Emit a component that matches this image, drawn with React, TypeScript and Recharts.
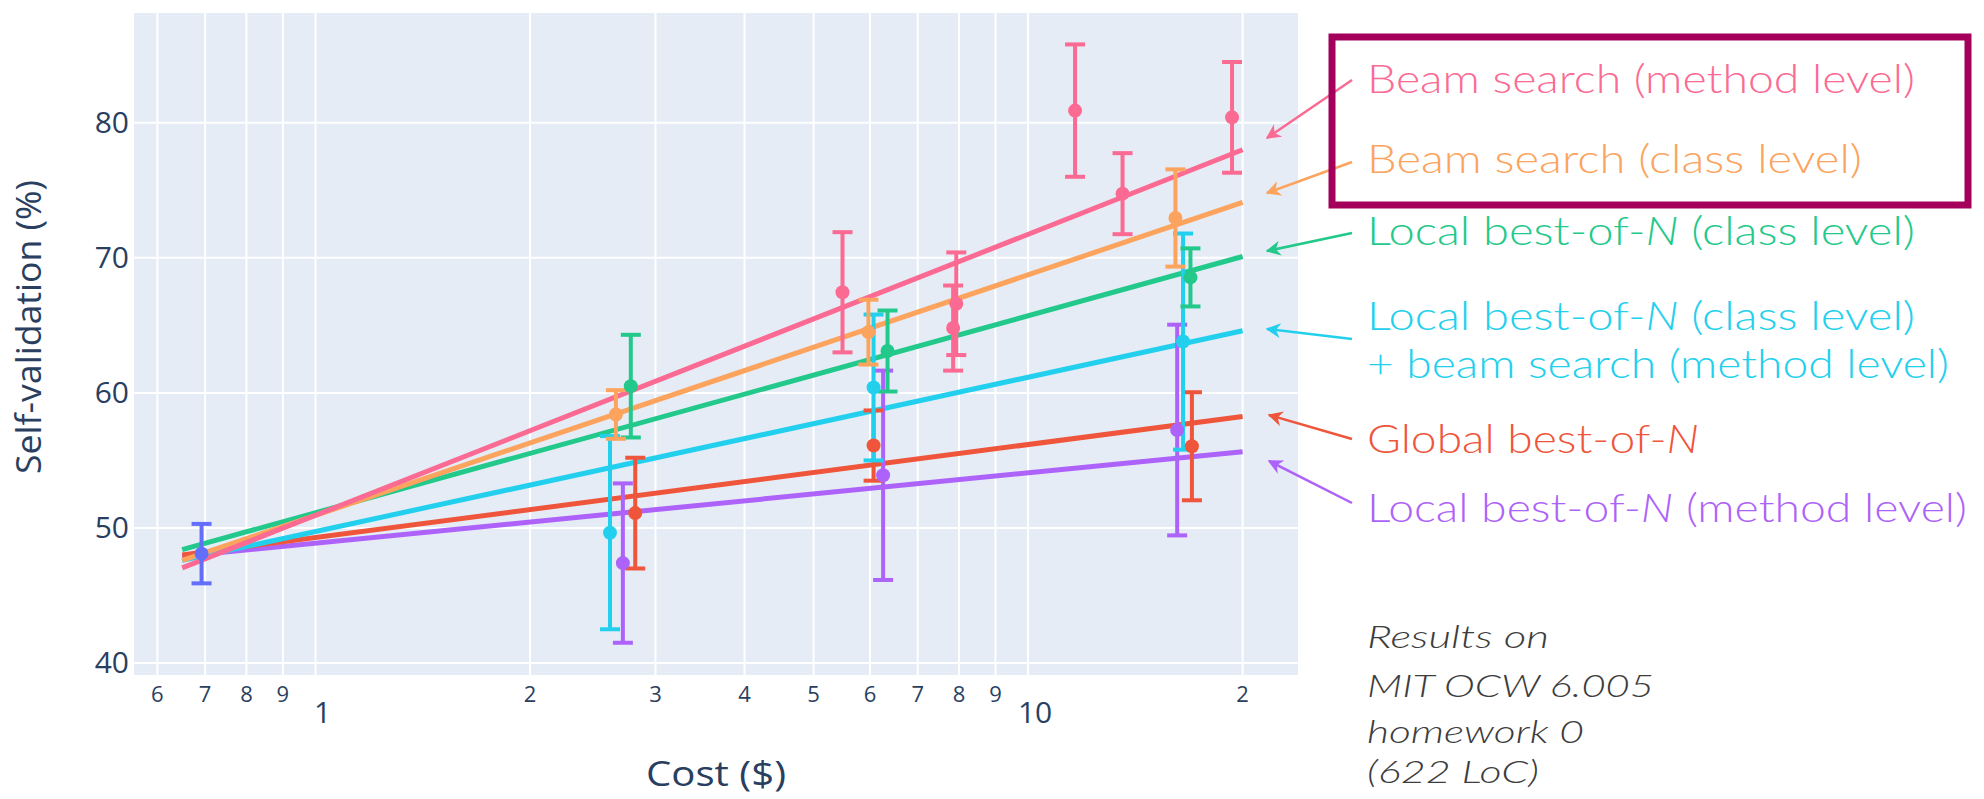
import React from "react";
import {
    ScatterChart,
    Scatter,
    XAxis,
    YAxis,
    CartesianGrid,
    ErrorBar,
    ReferenceLine,
} from "recharts";

// axis ticks (log x axis, plotly style minor labels)
const xTicks = [0.6, 0.7, 0.8, 0.9, 1, 2, 3, 4, 5, 6, 7, 8, 9, 10, 20];
const xTickLabels = ["6", "7", "8", "9", "1", "2", "3", "4", "5", "6", "7", "8", "9", "10", "2"];
const xMajorTicks = [1, 10];
const yTicks = [40, 50, 60, 70, 80];

// measured points: x = cost ($), y = self-validation (%), err = +/- error
const beamMethod = [
    { x: 5.49, y: 67.45, err: 4.45 },
    { x: 7.93, y: 66.6, err: 3.8 },
    { x: 7.85, y: 64.8, err: 3.15 },
    { x: 11.64, y: 80.9, err: 4.9 },
    { x: 13.57, y: 74.75, err: 3.0 },
    { x: 19.33, y: 80.4, err: 4.1 },
];
const beamClass = [
    { x: 2.64, y: 58.4, err: 1.8 },
    { x: 5.97, y: 64.5, err: 2.4 },
    { x: 16.1, y: 72.95, err: 3.6 },
];
const localClass = [
    { x: 2.77, y: 60.5, err: 3.8 },
    { x: 6.35, y: 63.1, err: 3.0 },
    { x: 16.9, y: 68.55, err: 2.15 },
];
const localClassBeam = [
    { x: 2.59, y: 49.65, err: 7.15 },
    { x: 6.07, y: 60.4, err: 5.4 },
    { x: 16.5, y: 63.8, err: 8.0 },
];
const globalBest = [
    { x: 2.81, y: 51.1, err: 4.1 },
    { x: 6.07, y: 56.1, err: 2.6 },
    { x: 16.98, y: 56.05, err: 4.0 },
];
const localMethod = [
    { x: 2.7, y: 47.4, err: 5.9 },
    { x: 6.26, y: 53.9, err: 7.75 },
    { x: 16.19, y: 57.25, err: 7.8 },
];
const basePoint = [{ x: 0.692, y: 48.1, err: 2.2 }];

// fitted trend lines (start / end)
const fitBeamMethod = [{ x: 0.65, y: 47.05 }, { x: 20, y: 78.0 }];
const fitBeamClass = [{ x: 0.65, y: 47.6 }, { x: 20, y: 74.1 }];
const fitLocalClass = [{ x: 0.65, y: 48.4 }, { x: 20, y: 70.1 }];
const fitLocalClassBeam = [{ x: 0.65, y: 47.6 }, { x: 20, y: 64.6 }];
const fitGlobal = [{ x: 0.65, y: 48.0 }, { x: 20, y: 58.25 }];
const fitLocalMethod = [{ x: 0.65, y: 47.9 }, { x: 20, y: 55.65 }];

const PINK = "#fb6a93";
const ORANGE = "#fca35d";
const GREEN = "#22c98a";
const CYAN = "#22d0ee";
const RED = "#ef553b";
const PURPLE = "#ad63f9";
const BLUE = "#636efa";
const AXIS_TEXT = "#2a3f5f";
const AXIS_FONT = "'Open Sans', sans-serif";

const series = [
    { name: "base", data: basePoint, fit: null, color: BLUE },
    { name: "localMethod", data: localMethod, fit: fitLocalMethod, color: PURPLE },
    { name: "global", data: globalBest, fit: fitGlobal, color: RED },
    { name: "localClassBeam", data: localClassBeam, fit: fitLocalClassBeam, color: CYAN },
    { name: "localClass", data: localClass, fit: fitLocalClass, color: GREEN },
    { name: "beamClass", data: beamClass, fit: fitBeamClass, color: ORANGE },
    { name: "beamMethod", data: beamMethod, fit: fitBeamMethod, color: PINK },
];

const XTick = ({ x, y, payload }: any) => {
    const i = xTicks.indexOf(payload.value);
    const major = xMajorTicks.includes(payload.value);
    return (
        <text
            x={x + (major ? 7 : 0)}
            y={y + (major ? 47 : 26)}
            textAnchor="middle"
            fill={AXIS_TEXT}
            fontSize={major ? 30 : 22}
            fontFamily={AXIS_FONT}
        >
            {xTickLabels[i]}
        </text>
    );
};

const YTick = ({ x, y, payload }: any) => (
    <text
        x={x}
        y={y + 10}
        textAnchor="end"
        fill={AXIS_TEXT}
        fontSize={30}
        fontFamily={AXIS_FONT}
    >
        {payload.value}
    </text>
);

const XTitle = ({ viewBox }: any) => (
    <text
        x={viewBox.x + viewBox.width / 2}
        y={786}
        textAnchor="middle"
        fill={AXIS_TEXT}
        fontSize={35}
        fontFamily={AXIS_FONT}
        textLength={140}
        lengthAdjust="spacingAndGlyphs"
    >
        Cost ($)
    </text>
);

const YTitle = ({ viewBox }: any) => {
    const cy = viewBox.y + viewBox.height / 2 - 17;
    return (
        <text
            x={41}
            y={cy}
            transform={`rotate(-90 41 ${cy})`}
            textAnchor="middle"
            fill={AXIS_TEXT}
            fontSize={35}
            fontFamily={AXIS_FONT}
            textLength={294}
            lengthAdjust="spacingAndGlyphs"
        >
            Self-validation (%)
        </text>
    );
};

const Dot = (color: string) => (props: any) =>
    <circle cx={props.cx} cy={props.cy} r={7} fill={color} />;

const labelFont = "Lato, 'Noto Sans', sans-serif";

const Label = ({ y, fill, len, children }: any) => (
    <text x={1367} y={y} fill={fill} textLength={len} lengthAdjust="spacingAndGlyphs">
        {children}
    </text>
);

const Annotations = () => (
    <svg
        width={1984}
        height={799}
        style={{ position: "absolute", left: 0, top: 0, pointerEvents: "none" }}
    >
        <defs>
            {[PINK, ORANGE, GREEN, CYAN, RED, PURPLE].map((c, i) => (
                <marker
                    key={i}
                    id={`arrow-${i}`}
                    viewBox="0 0 10 10"
                    refX="9"
                    refY="5"
                    markerWidth="6"
                    markerHeight="6"
                    orient="auto"
                >
                    <path d="M0,0 L10,5 L0,10 L3,5 z" fill={c} />
                </marker>
            ))}
        </defs>
        <line x1={1352} y1={80} x2={1267} y2={138} stroke={PINK} strokeWidth={2.5} markerEnd="url(#arrow-0)" />
        <line x1={1352} y1={162} x2={1267} y2={193} stroke={ORANGE} strokeWidth={2.5} markerEnd="url(#arrow-1)" />
        <line x1={1352} y1={233} x2={1267} y2={251} stroke={GREEN} strokeWidth={2.5} markerEnd="url(#arrow-2)" />
        <line x1={1352} y1={339} x2={1267} y2={329} stroke={CYAN} strokeWidth={2.5} markerEnd="url(#arrow-3)" />
        <line x1={1352} y1={439} x2={1269} y2={415} stroke={RED} strokeWidth={2.5} markerEnd="url(#arrow-4)" />
        <line x1={1352} y1={503} x2={1269} y2={461} stroke={PURPLE} strokeWidth={2.5} markerEnd="url(#arrow-5)" />

        <rect x={1332} y={37} width={636} height={168} fill="none" stroke="#a4005b" strokeWidth={7} />

        <g fontFamily={labelFont} fontSize={40} fontWeight={300}>
            <Label y={93} fill={PINK} len={548}>Beam search (method level)</Label>
            <Label y={173} fill={ORANGE} len={495}>Beam search (class level)</Label>
            <Label y={245} fill={GREEN} len={548}>
                Local best-of-<tspan fontStyle="italic">N</tspan> (class level)
            </Label>
            <Label y={330} fill={CYAN} len={548}>
                Local best-of-<tspan fontStyle="italic">N</tspan> (class level)
            </Label>
            <Label y={378} fill={CYAN} len={582}>+ beam search (method level)</Label>
            <Label y={453} fill={RED} len={332}>
                Global best-of-<tspan fontStyle="italic">N</tspan>
            </Label>
            <Label y={522} fill={PURPLE} len={600}>
                Local best-of-<tspan fontStyle="italic">N</tspan> (method level)
            </Label>
        </g>
        <g fontFamily={labelFont} fontSize={31} fontStyle="italic" fontWeight={300} fill="#3d3d3d">
            <Label y={648} len={182}>Results on</Label>
            <Label y={697} len={287}>MIT OCW 6.005</Label>
            <Label y={743} len={217}>homework 0</Label>
            <Label y={783} len={172}>(622 LoC)</Label>
        </g>
    </svg>
);

const App = () => {
    return (
        <div style={{ position: "absolute", left: 0, top: 0, width: 1984, height: 799, background: "#fff" }}>
            <ScatterChart
                width={1984}
                height={799}
                margin={{ top: 12, right: 685, bottom: 0, left: 0 }}
            >
                <CartesianGrid fill="#E5ECF6" stroke="#ffffff" strokeWidth={2} />
                <XAxis
                    type="number"
                    dataKey="x"
                    scale="log"
                    domain={[0.5545, 24]}
                    allowDataOverflow
                    ticks={xTicks}
                    interval={0}
                    height={123}
                    tickSize={0}
                    tickMargin={0}
                    axisLine={false}
                    tickLine={false}
                    tick={(p: any) => <XTick {...p} />}
                    label={{ content: (p: any) => <XTitle {...p} /> }}
                />
                <YAxis
                    type="number"
                    dataKey="y"
                    domain={[39.04, 88.2]}
                    allowDataOverflow
                    ticks={yTicks}
                    width={133}
                    tickSize={0}
                    tickMargin={4}
                    axisLine={false}
                    tickLine={false}
                    tick={(p: any) => <YTick {...p} />}
                    label={{ content: (p: any) => <YTitle {...p} /> }}
                />
                {series.map((s) =>
                    s.fit ? (
                        <ReferenceLine
                            key={`fit-${s.name}`}
                            segment={s.fit}
                            stroke={s.color}
                            strokeWidth={5}
                        />
                    ) : null
                )}
                {series.map((s) => (
                    <Scatter
                        key={s.name}
                        name={s.name}
                        data={s.data}
                        fill={s.color}
                        shape={Dot(s.color)}
                        isAnimationActive={false}
                    >
                        <ErrorBar
                            dataKey="err"
                            direction="y"
                            width={10}
                            stroke={s.color}
                            strokeWidth={4}
                            isAnimationActive={false}
                        />
                    </Scatter>
                ))}
            </ScatterChart>
            <Annotations />
        </div>
    );
};

export default App;
